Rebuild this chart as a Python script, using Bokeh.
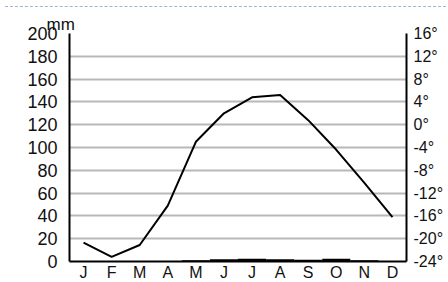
from bokeh.plotting import figure
from bokeh.models import Range1d, LinearAxis, FixedTicker, Div, ColumnDataSource
from bokeh.layouts import column
from bokeh.embed import file_html
from bokeh.resources import INLINE

# ---- data ----
months = ["J", "F", "M", "A", "M", "J", "J", "A", "S", "O", "N", "D"]
precip_mm = [0, 0, 0, 0, 1, 2, 2.5, 2, 1.5, 2.5, 1, 0]
temp_c = [-20.7, -23.2, -21.1, -14.2, -3.0, 2.0, 4.8, 5.2, 0.8, -4.4, -10.2, -16.2]
mm_ticks = [0, 20, 40, 60, 80, 100, 120, 140, 160, 180, 200]
temp_ticks = [-24, -20, -16, -12, -8, -4, 0, 4, 8, 12, 16]
temp_labels = ["-24°", "-20°", "-16°", "-12°", "-8°", "-4°", "0°", "4°", "8°", "12°", "16°"]
unit_label = "mm"

FONT = "Liberation Sans"
TXT = "#111111"
idx = list(range(len(months)))

p = figure(width=446, height=271, output_backend="svg", toolbar_location=None,
           x_range=Range1d(-0.5, 11.5), y_range=Range1d(0, 200),
           min_border_left=69, min_border_right=0, min_border_top=0, min_border_bottom=0)
p.outline_line_color = None
p.background_fill_color = "white"
p.border_fill_color = "white"
p.xgrid.grid_line_color = None
p.ygrid.grid_line_color = "#b8b8b8"
p.ygrid.grid_line_width = 2
p.ygrid.ticker = FixedTicker(ticks=mm_ticks)

# unit label above the left axis
p.title.text = unit_label
p.title.align = "left"
p.title.offset = -23
p.title.standoff = 0
p.title.text_font = FONT
p.title.text_font_size = "17px"
p.title.text_font_style = "normal"
p.title.text_color = TXT

p.extra_y_ranges = {"temp": Range1d(temp_ticks[0], temp_ticks[-1])}

src = ColumnDataSource(dict(x=idx, p=precip_mm, t=temp_c))
p.vbar(x="x", top="p", bottom=0, width=1.0, source=src, fill_color="black", line_color=None)
p.line(x="x", y="t", source=src, y_range_name="temp", line_color="black", line_width=2)

rax = LinearAxis(y_range_name="temp", ticker=FixedTicker(ticks=temp_ticks))
rax.major_label_overrides = {t: l for t, l in zip(temp_ticks, temp_labels)}
p.add_layout(rax, "right")

# axes styling
for ax in [p.xaxis[0], p.yaxis[0], rax]:
    ax.axis_line_width = 2
    ax.axis_line_color = "black"
    ax.major_tick_line_color = None
    ax.minor_tick_line_color = None
    ax.major_tick_out = 0
    ax.major_tick_in = 0
    ax.minor_tick_out = 0
    ax.minor_tick_in = 0
    ax.major_label_text_font = FONT
    ax.major_label_text_color = TXT

p.yaxis[0].ticker = FixedTicker(ticks=mm_ticks)
p.yaxis[0].major_label_text_font_size = "18px"
p.yaxis[0].major_label_standoff = 12

p.xaxis[0].ticker = FixedTicker(ticks=idx)
p.xaxis[0].major_label_overrides = {i: m for i, m in zip(idx, months)}
p.xaxis[0].major_label_text_font_size = "16px"
p.xaxis[0].major_label_standoff = 2

rax.major_label_text_font_size = "16px"
rax.major_label_standoff = 7

top = Div(text="", width=446, height=2,
          styles={"border-bottom": "1px dashed #9fb2d8"})

layout = column(top, p, spacing=0)
open("out.html", "w").write(file_html(layout, INLINE))
